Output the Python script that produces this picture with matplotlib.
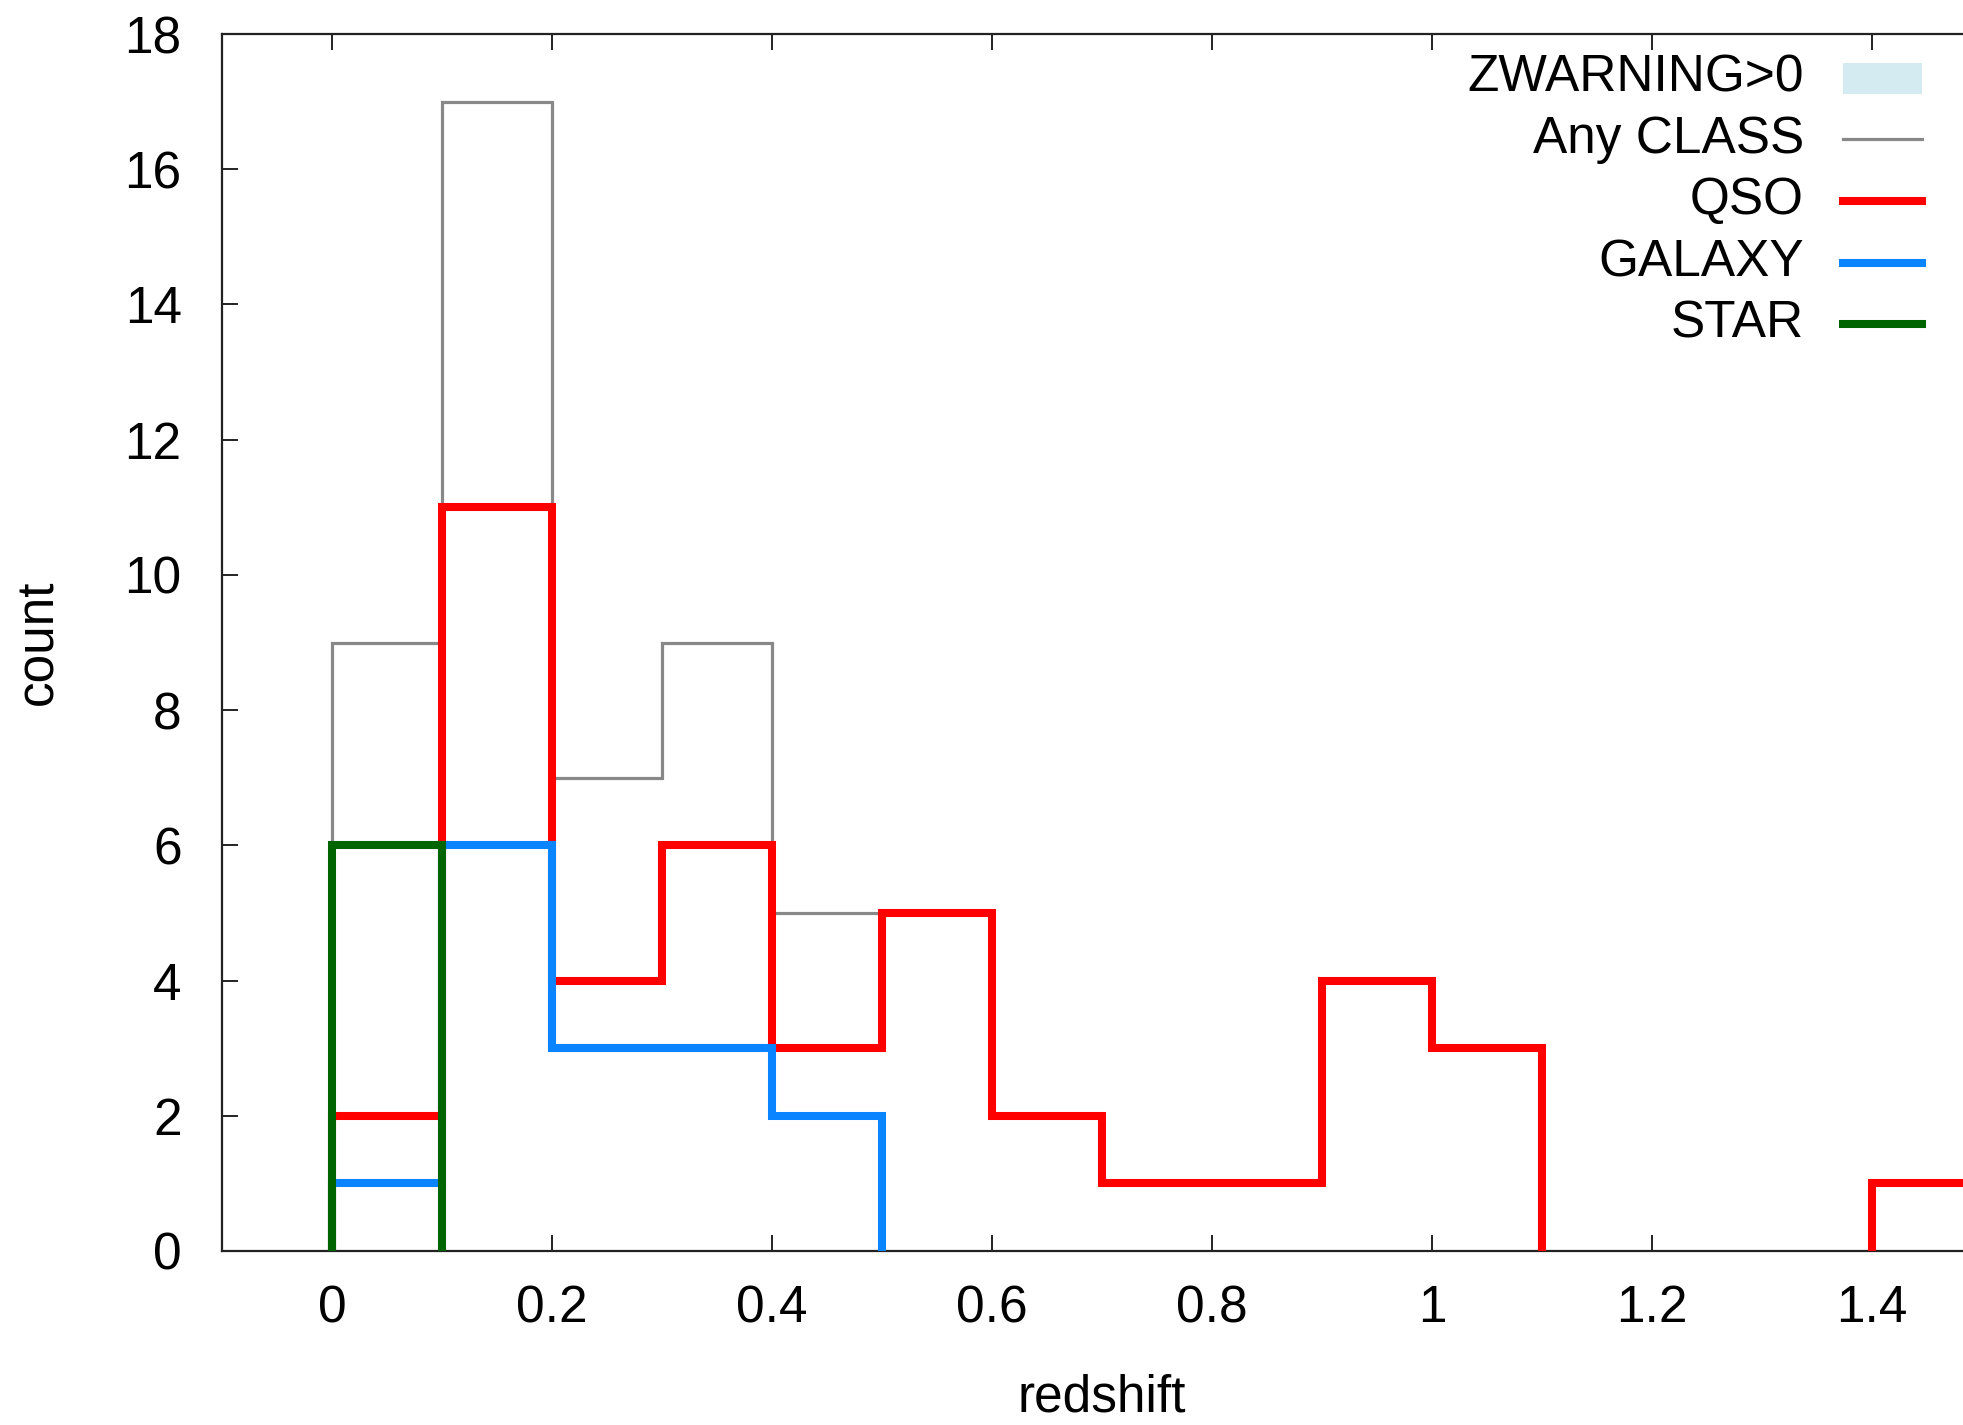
import numpy as np
import matplotlib
matplotlib.use("Agg")
import matplotlib.pyplot as plt
from matplotlib.patches import Rectangle
from matplotlib.lines import Line2D

# ---- data ----
bin_edges = [0.0, 0.1, 0.2, 0.3, 0.4, 0.5, 0.6, 0.7, 0.8, 0.9, 1.0, 1.1, 1.2, 1.3, 1.4, 1.5]
qso    = [2, 11, 4, 6, 3, 5, 2, 1, 1, 4, 3, 0, 0, 0, 1]
galaxy = [1, 6, 3, 3, 2, 0, 0, 0, 0, 0, 0, 0, 0, 0, 0]
star   = [6, 0, 0, 0, 0, 0, 0, 0, 0, 0, 0, 0, 0, 0, 0]
any_class = [9, 17, 7, 9, 5, 5, 2, 1, 1, 4, 3, 0, 0, 0, 1]
zwarning = [0, 0, 0, 0, 0, 0, 0, 0, 0, 0, 0, 0, 0, 0, 0]

x_ticks = [0, 0.2, 0.4, 0.6, 0.8, 1.0, 1.2, 1.4]
x_tick_labels = ["0", "0.2", "0.4", "0.6", "0.8", "1", "1.2", "1.4"]
y_ticks = [0, 2, 4, 6, 8, 10, 12, 14, 16, 18]
legend_labels = ["ZWARNING>0", "Any CLASS", "QSO", "GALAXY", "STAR"]

plt.rcParams['font.family'] = ['Liberation Sans', 'DejaVu Sans']
FS = 37

W, H = 1963, 1425
fig = plt.figure(figsize=(W / 100, H / 100), dpi=100)

# axes in pixel geometry (right side extends past the image)
x0_px, x1_px = 222, 222 + 1760
y_bot_px, y_top_px = 1251, 34
ax = fig.add_axes([x0_px / W, (H - y_bot_px) / H, (x1_px - x0_px) / W, (y_bot_px - y_top_px) / H])
ax.set_xlim(-0.1, 1.5)
ax.set_ylim(0, 18)

def draw_hist(vals, color, lw, z):
    vals = np.asarray(vals, dtype=float)
    edges = np.asarray(bin_edges)
    i = 0
    n = len(vals)
    while i < n:
        if vals[i] > 0:
            j = i
            while j < n and vals[j] > 0:
                j += 1
            sp = ax.stairs(vals[i:j], edges[i:j + 1], baseline=0, color=color,
                           linewidth=lw, zorder=z)
            sp.set_joinstyle('miter')
            sp.set_capstyle('projecting')
            i = j
        else:
            i += 1

# zwarning fill (empty)
zw = np.asarray(zwarning, dtype=float)
if zw.sum() > 0:
    ax.stairs(zw, bin_edges, fill=True, color='#add8e6', alpha=0.5, zorder=2)

LW = 5.8
draw_hist(any_class, '#888888', 2.3, 3)
draw_hist(qso, '#ff0000', LW, 4)
draw_hist(galaxy, '#0a84ff', LW, 5)
draw_hist(star, '#006400', LW, 6)

# axes styling
for s in ax.spines.values():
    s.set_linewidth(1.6)
    s.set_color('#222222')
    s.set_zorder(2.5)

ax.set_xticks(x_ticks)
ax.set_xticklabels(x_tick_labels)
ax.set_yticks(y_ticks)
ax.tick_params(axis='both', direction='in', length=11.5, width=1.4, color='#222222',
               labelsize=FS, top=True, right=True)
ax.tick_params(axis='x', pad=24)
ax.tick_params(axis='y', pad=29)

ax.set_xlabel('redshift', fontsize=FS, labelpad=29)
ax.set_ylabel('count', fontsize=FS, labelpad=44)

# ---- legend drawn manually (pixel positions) ----
text_right = 1804
rows_y = [78, 139, 201, 263, 324]
sample_x0, sample_x1 = 1843, 1922
styles = [None, ('#888888', 2.3), ('#ff0000', LW), ('#0a84ff', LW), ('#006400', LW)]
for lab, yy, st in zip(legend_labels, rows_y, styles):
    fig.text(text_right / W, (H - yy) / H, lab, ha='right', va='center', fontsize=FS)
    if st is None:
        fig.patches.append(Rectangle((sample_x0 / W, (H - yy - 16) / H),
                                     (sample_x1 - sample_x0) / W, 31 / H,
                                     transform=fig.transFigure, facecolor='#add8e6',
                                     alpha=0.5, edgecolor='none'))
    else:
        fig.lines.append(Line2D([sample_x0 / W, sample_x1 / W], [(H - yy) / H] * 2,
                                transform=fig.transFigure, color=st[0], linewidth=st[1]))

fig.savefig('out.png', dpi=100)
